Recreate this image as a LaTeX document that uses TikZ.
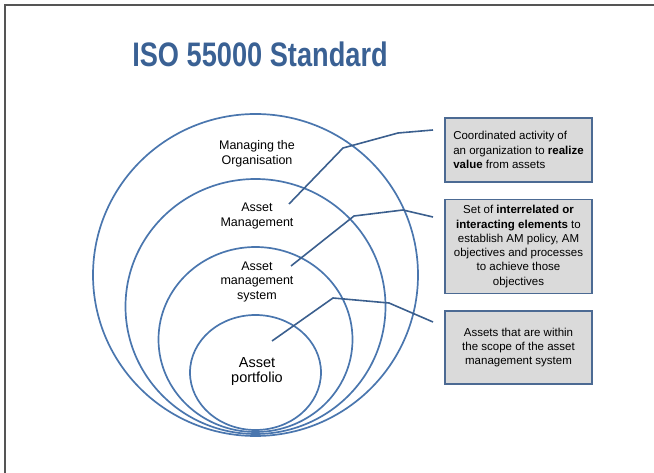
\documentclass[tikz,border=0pt]{standalone}
\usepackage{fontspec}
\setmainfont{Liberation Sans}
\newfontfamily\titlefont[FakeStretch=0.8]{Liberation Sans}
\usetikzlibrary{positioning}
\definecolor{ringblue}{HTML}{4A76AE}
\definecolor{leadblue}{HTML}{3B5F8E}
\definecolor{boxedge}{HTML}{4C6A93}
\definecolor{boxgrey}{HTML}{DADADA}
\definecolor{titleblue}{HTML}{3A6194}
\definecolor{framegrey}{HTML}{555555}

\begin{document}
\begin{tikzpicture}[x=1pt,y=-1pt,
                    ring/.style={draw=ringblue,line width=1.7pt},
                    ring label/.style={align=center,inner sep=0pt,font=\fontsize{12.5}{14.5}\selectfont},
                    note node/.style={draw=boxedge,fill=boxgrey,line width=1.5pt,minimum width=147pt,
                                      inner sep=0pt,align=center,font=\fontsize{11.5}{14.3}\selectfont},
                    lead/.style={draw=leadblue,line width=1.6pt}]
  \useasboundingbox (0,0) rectangle (654,473);
  \draw[framegrey,line width=1.5pt] (5,473) -- (5,5) -- (654,5);

  \node[anchor=base,text=titleblue,font=\titlefont\bfseries\fontsize{34}{40}\selectfont] (title) at (260,67) {ISO 55000 Standard};

  \foreach \cy/\rx/\ry in {275/162.5/161, 306.5/130/127.5, 339.5/97/92.5, 372.5/65.5/57.5}
    \draw[ring] (255.5,\cy) ellipse [x radius=\rx pt, y radius=\ry pt];

  \node[ring label] (org) at (257,154) {Managing the\\Organisation};
  \node[ring label] (am) at (257,216) {Asset\\Management};
  \node[ring label] (ams) at (257,281.5) {Asset\\management\\system};
  \node[ring label,font=\fontsize{14.5}{15.5}\selectfont] (port) at (257,371.5) {Asset\\portfolio};

  \node[note node,align=left,minimum height=64pt] (b1) at (518.5,150)
    {Coordinated activity of\\an organization to \textbf{realize}\\\textbf{value} from assets};
  \node[note node,minimum height=94pt] (b2) [below=16pt of b1]
    {Set of \textbf{interrelated or}\\\textbf{interacting elements} to\\establish AM policy, AM\\objectives and processes\\to achieve those\\objectives};
  \node[note node,minimum height=73pt] (b3) [below=16pt of b2]
    {Assets that are within\\the scope of the asset\\management system};

  \coordinate (s1) at (289,204);
  \coordinate (s2) at (291,266);
  \coordinate (s3) at (272,341);
  \coordinate (e1) at (433,130);
  \coordinate (e2) at (433,217);
  \coordinate (e3) at (433,322);

  \draw[lead] (s1) -- (343,148) -- (398,133) -- (e1);
  \draw[lead] (s2) -- (354,216) -- (403,210) -- (e2);
  \draw[lead] (s3) -- (333,298) -- (389,303) -- (e3);
\end{tikzpicture}
\end{document}
